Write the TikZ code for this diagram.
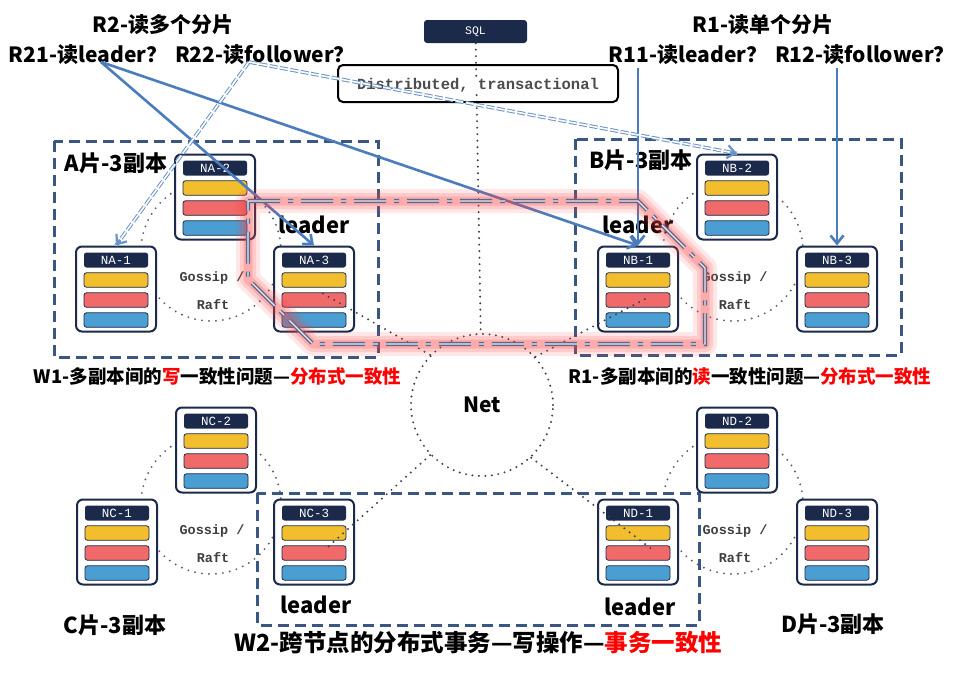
\documentclass[tikz,border=0pt]{standalone}
\usepackage{fontspec}
\setmainfont{Noto Sans CJK SC}
\newfontfamily\monof{Liberation Mono}
\usetikzlibrary{arrows.meta,calc}
\definecolor{navy}{HTML}{1B2A4A}
\definecolor{grpc}{HTML}{3A5783}
\definecolor{ybar}{HTML}{F2BE2D}
\definecolor{rbar}{HTML}{F06A6A}
\definecolor{bbar}{HTML}{4B9ED2}
\definecolor{arrc}{HTML}{4A7CBE}
\definecolor{dblc}{HTML}{6A93C9}
\definecolor{dotc}{HTML}{3A4152}
\definecolor{chainc}{HTML}{56698F}
\definecolor{gtxt}{HTML}{3F3F3F}
\tikzset{
  srvbox/.style={draw=navy, line width=2pt, rounded corners=6pt, fill=white, minimum width=80pt, minimum height=85pt, inner sep=0pt},
  hdrbar/.style={fill=navy, rounded corners=2.5pt, minimum width=64pt, minimum height=15pt, inner sep=0pt, text=white, font=\monof\fontsize{12.5}{12.5}\selectfont},
  colbar/.style={draw=navy, line width=0.8pt, rounded corners=2.5pt, fill=#1, minimum width=64pt, minimum height=14.5pt, inner sep=0pt},
  grpbox/.style={draw=grpc, line width=3pt, dash pattern=on 11pt off 6pt},
  dotline/.style={draw=dotc, line width=2.2pt, dash pattern=on 0pt off 6.5pt, line cap=round},
  gossipdot/.style={draw=dotc!85, line width=2.1pt, dash pattern=on 0pt off 7pt, line cap=round},
  gossiptxt/.style={text=gtxt, font=\monof\bfseries\fontsize{13.5}{13.5}\selectfont, inner sep=0pt},
  netcirc/.style={circle, dotline, minimum size=142pt, inner sep=0pt, font=\bfseries\fontsize{21}{21}\selectfont},
  sqlbox/.style={fill=navy, rounded corners=3pt, minimum width=103pt, minimum height=23pt, inner sep=0pt, text=white, font=\monof\fontsize{11.5}{11.5}\selectfont},
  distbox/.style={draw=black, line width=2pt, rounded corners=5pt, minimum width=280pt, minimum height=37pt, inner sep=0pt},
  disttxt/.style={fill=white, inner sep=1pt, text=black!70, font=\monof\bfseries\fontsize{15.5}{15.5}\selectfont},
  toplbl/.style={font=\bfseries\fontsize{21}{24}\selectfont, inner sep=0pt},
  grplbl/.style={font=\bfseries\fontsize{22}{24}\selectfont, inner sep=0pt},
  leaderlbl/.style={font=\bfseries\fontsize{22}{24}\selectfont, inner sep=0pt},
  linelbl/.style={font=\bfseries\fontsize{18.5}{20}\selectfont, inner sep=0pt},
  bigline/.style={font=\bfseries\fontsize{23.5}{26}\selectfont, inner sep=0pt},
  solidarr/.style={draw=arrc, line width=2.6pt, -{Straight Barb[length=8pt,width=13pt]}},
  dblline/.style={draw=dblc, line width=1pt, double=white, double distance=1.6pt, dash pattern=on 8pt off 2.5pt},
  dbltip/.style={draw=dblc, line width=2.2pt, -{Straight Barb[length=8pt,width=13pt]}},
  glowa/.style={draw=red!75, line width=24pt, opacity=0.12, line join=round},
  glowb/.style={draw=red!75, line width=16pt, opacity=0.17, line join=round},
  glowc/.style={draw=red!75, line width=9pt, opacity=0.22, line join=round},
  chain/.style={draw=chainc, line width=1.4pt, double=red!10, double distance=1.3pt, dash pattern=on 32pt off 8pt on 5pt off 8pt, line join=miter},
}
\newcommand\srvnode[4]{%
  \node[srvbox] (#1) at (#2,#3) {};
  \node[hdrbar] (#1-h) at ($(#1)+(0,-29)$) {#4};
  \node[colbar=ybar] (#1-y) at ($(#1)+(0,-9)$) {};
  \node[colbar=rbar] (#1-r) at ($(#1)+(0,11)$) {};
  \node[colbar=bbar] (#1-b) at ($(#1)+(0,31)$) {};
}
\begin{document}
\begin{tikzpicture}[x=1pt,y=-1pt]
\useasboundingbox (0,0) rectangle (974,673);
\fill[white] (0,0) rectangle (974,673);

% gossip circles
\foreach \cx/\cy in {211/251, 733/251, 211/504, 733/504}
  \draw[gossipdot] (\cx,\cy) circle (70);

% group boxes
\draw[grpbox] (54,141) rectangle (378,357);
\draw[grpbox] (575,139) rectangle (901,355);
\draw[grpbox] (257,493) rectangle (699,625);

% net
\node[netcirc] (net) at (482,405) {Net};

% SQL and distributed box
\node[sqlbox] (sql) at (475.5,31.5) {SQL};
\draw[dotline] (sql) -- (net);
\node[distbox] (dist) at (478,83.5) {};
\node[disttxt] (distt) at (478,85) {Distributed, transactional};

% servers
\srvnode{na2}{215}{197}{NA-2}
\srvnode{na1}{116}{289}{NA-1}
\srvnode{na3}{314}{289}{NA-3}
\srvnode{nb2}{737}{197}{NB-2}
\srvnode{nb1}{638}{289}{NB-1}
\srvnode{nb3}{837}{289}{NB-3}
\srvnode{nc2}{216}{450}{NC-2}
\srvnode{nc1}{117}{542}{NC-1}
\srvnode{nc3}{314}{542}{NC-3}
\srvnode{nd2}{737}{450}{ND-2}
\srvnode{nd1}{638}{542}{ND-1}
\srvnode{nd3}{837}{542}{ND-3}

% net to leaders
\coordinate (a3in) at (322,293);
\coordinate (b1in) at (645,299);
\coordinate (c3in) at (328,547);
\coordinate (d1in) at (653,550);
\draw[dotline] (net.136) -- (a3in);
\draw[dotline] (net.42) -- (b1in);
\draw[dotline] (net.224) -- (c3in);
\draw[dotline] (net.313) -- (d1in);

% gossip labels
\node[gossiptxt] (ga1) at (212,278) {Gossip /};
\node[gossiptxt] (ga2) at (213,305) {Raft};
\node[gossiptxt] (gb1) at (735,278) {Gossip /};
\node[gossiptxt] (gb2) at (735,305) {Raft};
\node[gossiptxt] (gc1) at (212,531) {Gossip /};
\node[gossiptxt] (gc2) at (213,558) {Raft};
\node[gossiptxt] (gd1) at (735,531) {Gossip /};
\node[gossiptxt] (gd2) at (735,558) {Raft};

% group labels
\node[grplbl] (la) at (116,163) {A片-3副本};
\node[grplbl] (lb) at (641,160) {B片-3副本};
\node[grplbl] (lc) at (115,625) {C片-3副本};
\node[grplbl] (ld) at (833,624) {D片-3副本};

% leader labels
\node[leaderlbl] (lda) at (314,225) {leader};
\node[leaderlbl] (ldb) at (638,225) {leader};
\node[leaderlbl] (ldc) at (316,605) {leader};
\node[leaderlbl] (ldd) at (640,607) {leader};

% top labels
\node[toplbl] (r2) at (163,25) {R2-读多个分片};
\node[toplbl] (r21t) at (88,55) {R21-读leader？};
\node[toplbl] (r22t) at (265,55) {R22-读follower？};
\node[toplbl] (r1) at (763,25) {R1-读单个分片};
\node[toplbl] (r11t) at (688,55) {R11-读leader？};
\node[toplbl] (r12t) at (865,55) {R12-读follower？};

% consistency lines
\node[linelbl] (w1) at (217.5,376) {W1-多副本间的\textcolor{red}{写}一致性问题—\textcolor{red}{分布式一致性}};
\node[linelbl] (r1l) at (750,376) {R1-多副本间的\textcolor{red}{读}一致性问题—\textcolor{red}{分布式一致性}};
\node[bigline] (w2) at (478.5,643) {W2-跨节点的分布式事务—写操作—\textcolor{red}{事务一致性}};

% arrows
\coordinate (r21) at (101,62);
\coordinate (r22) at (249,62);
\coordinate (r11) at (638,68);
\coordinate (r12) at (837,68);
\draw[solidarr] (r21) -- (na3.north);
\draw[solidarr] (r21) -- (nb1.north);
\draw[solidarr] (r11) -- (nb1.north);
\draw[solidarr] (r12) -- (nb3.north);
\draw[dblline] (r22) -- (na1.north);
\draw[dbltip] ($(na1.north)!7pt!(r22)$) -- (na1.north);
\draw[dblline] (r22) -- (nb2.north);
\draw[dbltip] ($(nb2.north)!7pt!(r22)$) -- (nb2.north);

% glowing chain around the two leaders
\coordinate (g1) at (248,201);
\coordinate (g2) at (638,201);
\coordinate (g3) at (705,268);
\coordinate (g4) at (705,344);
\coordinate (g5) at (313,344);
\coordinate (g6) at (248,279);
\draw[glowa] (g1) -- (g2) -- (g3) -- (g4) -- (g5) -- (g6) -- cycle;
\draw[glowb] (g1) -- (g2) -- (g3) -- (g4) -- (g5) -- (g6) -- cycle;
\draw[glowc] (g1) -- (g2) -- (g3) -- (g4) -- (g5) -- (g6) -- cycle;
\draw[chain] (g1) -- (g2) -- (g3) -- (g4) -- (g5) -- (g6) -- cycle;
\end{tikzpicture}
\end{document}
